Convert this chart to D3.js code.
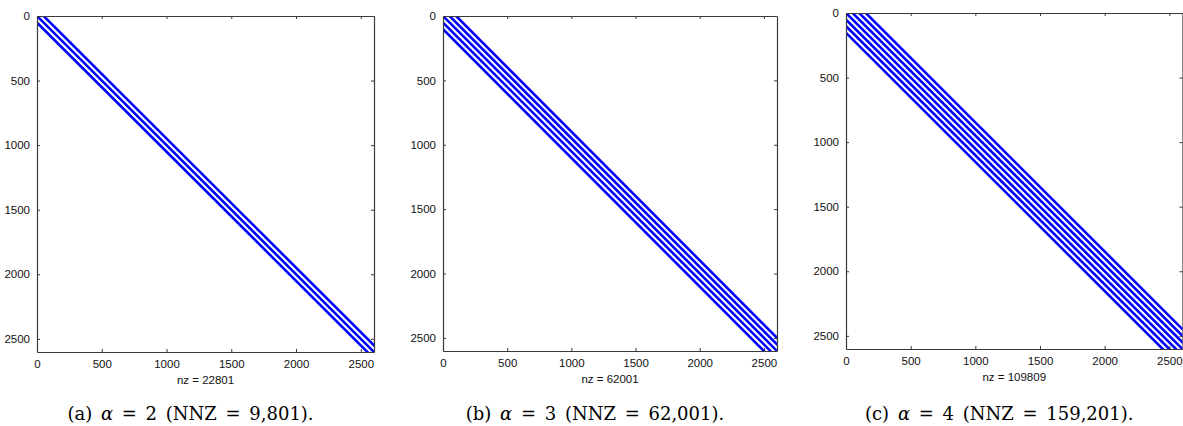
<!DOCTYPE html>
<html>
<head>
<meta charset="utf-8">
<script src="https://cdn.jsdelivr.net/npm/d3@7"></script>
<style>
  body { margin: 0; background: #fff; }
  .tick text { font-family: "Liberation Sans", Arial, sans-serif; font-size: 11.5px; fill: #111; }
  .nz { font-family: "Liberation Sans", Arial, sans-serif; font-size: 11.5px; fill: #111; }
  .cap { font-family: "DejaVu Serif", "Liberation Serif", serif; font-size: 18px; fill: #000; word-spacing: 3px; }
</style>
</head>
<body>
<div id="chart"></div>
<script>
// matrix size and tick values
var n = 2601;
var tickValues = [0, 500, 1000, 1500, 2000, 2500];

// diagonal band offsets for each panel (column - row)
var offsetsA = [-51, 0, 51];
var offsetsB = [-102, -51, 0, 51, 102];
var offsetsC = [-153, -102, -51, 0, 51, 102, 153];

var nzLabels = ["nz = 22801", "nz = 62001", "nz = 109809"];
var letters = ["a", "b", "c"];
var alphas = [2, 3, 4];
var nnzLabels = ["9,801", "62,001", "159,201"];

var W = 1183, H = 426;

var svg = d3.select("#chart").append("svg")
    .attr("width", W)
    .attr("height", H);

// panel boxes (pixels)
var panels = [
    { left: 37,  top: 16, w: 337, h: 336, offsets: offsetsA },
    { left: 443, top: 16, w: 334, h: 335, offsets: offsetsB },
    { left: 846, top: 13, w: 336.5, h: 336, offsets: offsetsC }
];

panels.forEach(function (p, i) {
    var g = svg.append("g")
        .attr("transform", "translate(" + p.left + "," + p.top + ")");

    var x = d3.scaleLinear().domain([0, n + 1]).range([0, p.w]);
    var y = d3.scaleLinear().domain([0, n + 1]).range([0, p.h]);

    g.append("clipPath").attr("id", "clip" + i)
        .append("rect").attr("width", p.w).attr("height", p.h);

    // bands
    var bands = p.offsets.map(function (k) {
        if (k >= 0) return { x1: 1 + k, y1: 1, x2: n, y2: n - k };
        return { x1: 1, y1: 1 - k, x2: n + k, y2: n };
    });

    g.append("g").attr("clip-path", "url(#clip" + i + ")")
        .selectAll("line")
        .data(bands)
        .enter().append("line")
        .attr("x1", function (d) { return x(d.x1 - 12); })
        .attr("y1", function (d) { return y(d.y1 - 12); })
        .attr("x2", function (d) { return x(d.x2 + 12); })
        .attr("y2", function (d) { return y(d.y2 + 12); })
        .style("stroke", "#0000ff")
        .style("stroke-width", 2.6);

    // axes with inward ticks on all four sides
    var ax = function (sel) {
        sel.selectAll(".domain").style("stroke", "#3a3a3a");
        sel.selectAll(".tick line").style("stroke", "#3a3a3a");
    };
    var fmt = d3.format("d");

    g.append("g")
        .attr("transform", "translate(0," + p.h + ")")
        .call(d3.axisBottom(x).tickValues(tickValues).tickSize(-3).tickSizeOuter(0).tickPadding(8).tickFormat(fmt))
        .call(ax);

    g.append("g")
        .call(d3.axisTop(x).tickValues(tickValues).tickSize(-3).tickSizeOuter(0).tickFormat(""))
        .call(ax);

    g.append("g")
        .call(d3.axisLeft(y).tickValues(tickValues).tickSize(-3).tickSizeOuter(0).tickPadding(7).tickFormat(fmt))
        .call(ax);

    g.append("g")
        .attr("transform", "translate(" + p.w + ",0)")
        .call(d3.axisRight(y).tickValues(tickValues).tickSize(-3).tickSizeOuter(0).tickFormat(""))
        .call(ax);

    g.selectAll(".domain").style("stroke-width", 1.2);

    g.append("text")
        .attr("class", "nz")
        .attr("x", p.w / 2)
        .attr("y", p.h + 32)
        .attr("text-anchor", "middle")
        .text(nzLabels[i]);

    // caption
    var cap = svg.append("text")
        .attr("class", "cap")
        .attr("x", p.left + p.w / 2 - 15)
        .attr("y", 420)
        .attr("text-anchor", "middle");
    cap.append("tspan").text("(" + letters[i] + ") ");
    cap.append("tspan").style("font-style", "italic").text("\u03b1");
    cap.append("tspan").text(" = " + alphas[i] + " (NNZ = " + nnzLabels[i] + ").");
});
</script>
</body>
</html>
